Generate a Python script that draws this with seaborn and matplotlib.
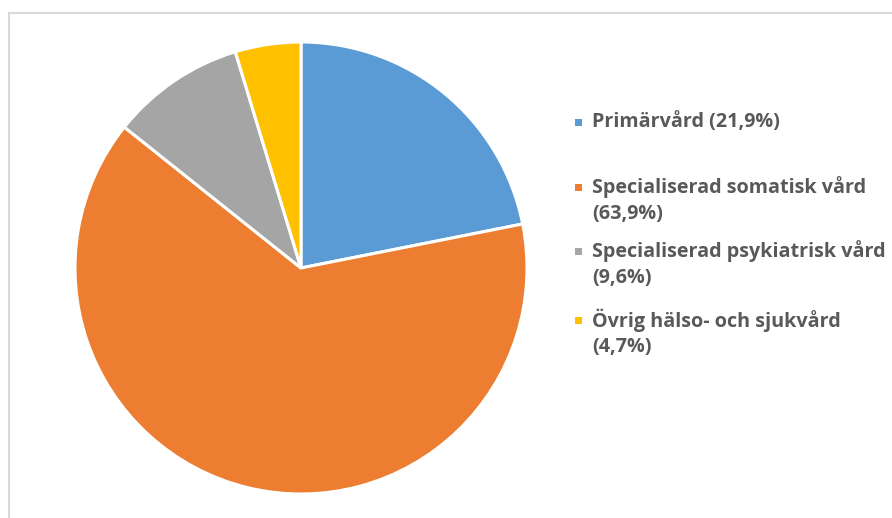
import matplotlib
matplotlib.use("Agg")
import matplotlib.pyplot as plt
import seaborn as sns
from matplotlib.patches import Rectangle

# Data
categories = ["Primärvård", "Specialiserad somatisk vård",
              "Specialiserad psykiatrisk vård", "Övrig hälso- och sjukvård"]
shares = [21.9, 63.9, 9.6, 4.7]
share_labels = ["21,9%", "63,9%", "9,6%", "4,7%"]
legend_labels = ["Primärvård (21,9%)",
                 "Specialiserad somatisk vård\n(63,9%)",
                 "Specialiserad psykiatrisk vård\n(9,6%)",
                 "Övrig hälso- och sjukvård\n(4,7%)"]
colors = ["#5B9BD5", "#ED7D31", "#A5A5A5", "#FFC000"]

sns.set_theme(style="white")
plt.rcParams["font.family"] = ["Open Sans", "DejaVu Sans"]

W, H = 892, 518
fig = plt.figure(figsize=(W / 100, H / 100), dpi=100)

# light grey frame round the chart area
fig.patches.append(Rectangle((8.5 / W, -0.1), 1.2, (H - 12.5) / H + 0.1,
                             transform=fig.transFigure, fill=False,
                             edgecolor="#D9D9D9", linewidth=1.5))

# pie: centre (301, 268), radius 226 px
cx, cy, r = 301, 268, 226
ax = fig.add_axes([(cx - r) / W, (H - cy - r) / H, 2 * r / W, 2 * r / H])
ax.pie(shares, colors=colors, startangle=90, counterclock=False,
       wedgeprops=dict(edgecolor="white", linewidth=2.2))
ax.set_xlim(-1, 1)
ax.set_ylim(-1, 1)
ax.set_aspect("equal")
ax.axis("off")

# legend placed by hand (Excel style)
entry_y = [122, 187, 251, 320]
for lab, col, y in zip(legend_labels, colors, entry_y):
    fig.patches.append(Rectangle((575 / W, (H - y - 3.5) / H), 7 / W, 7 / H,
                                 transform=fig.transFigure, facecolor=col,
                                 edgecolor="none"))
    for i, line in enumerate(lab.split("\n")):
        fig.text(592 / W, (H - y - 27 * i) / H, line, fontsize=14.2,
                 fontweight="bold", color="#595959", va="center", ha="left")

fig.savefig("out.png", dpi=100)
